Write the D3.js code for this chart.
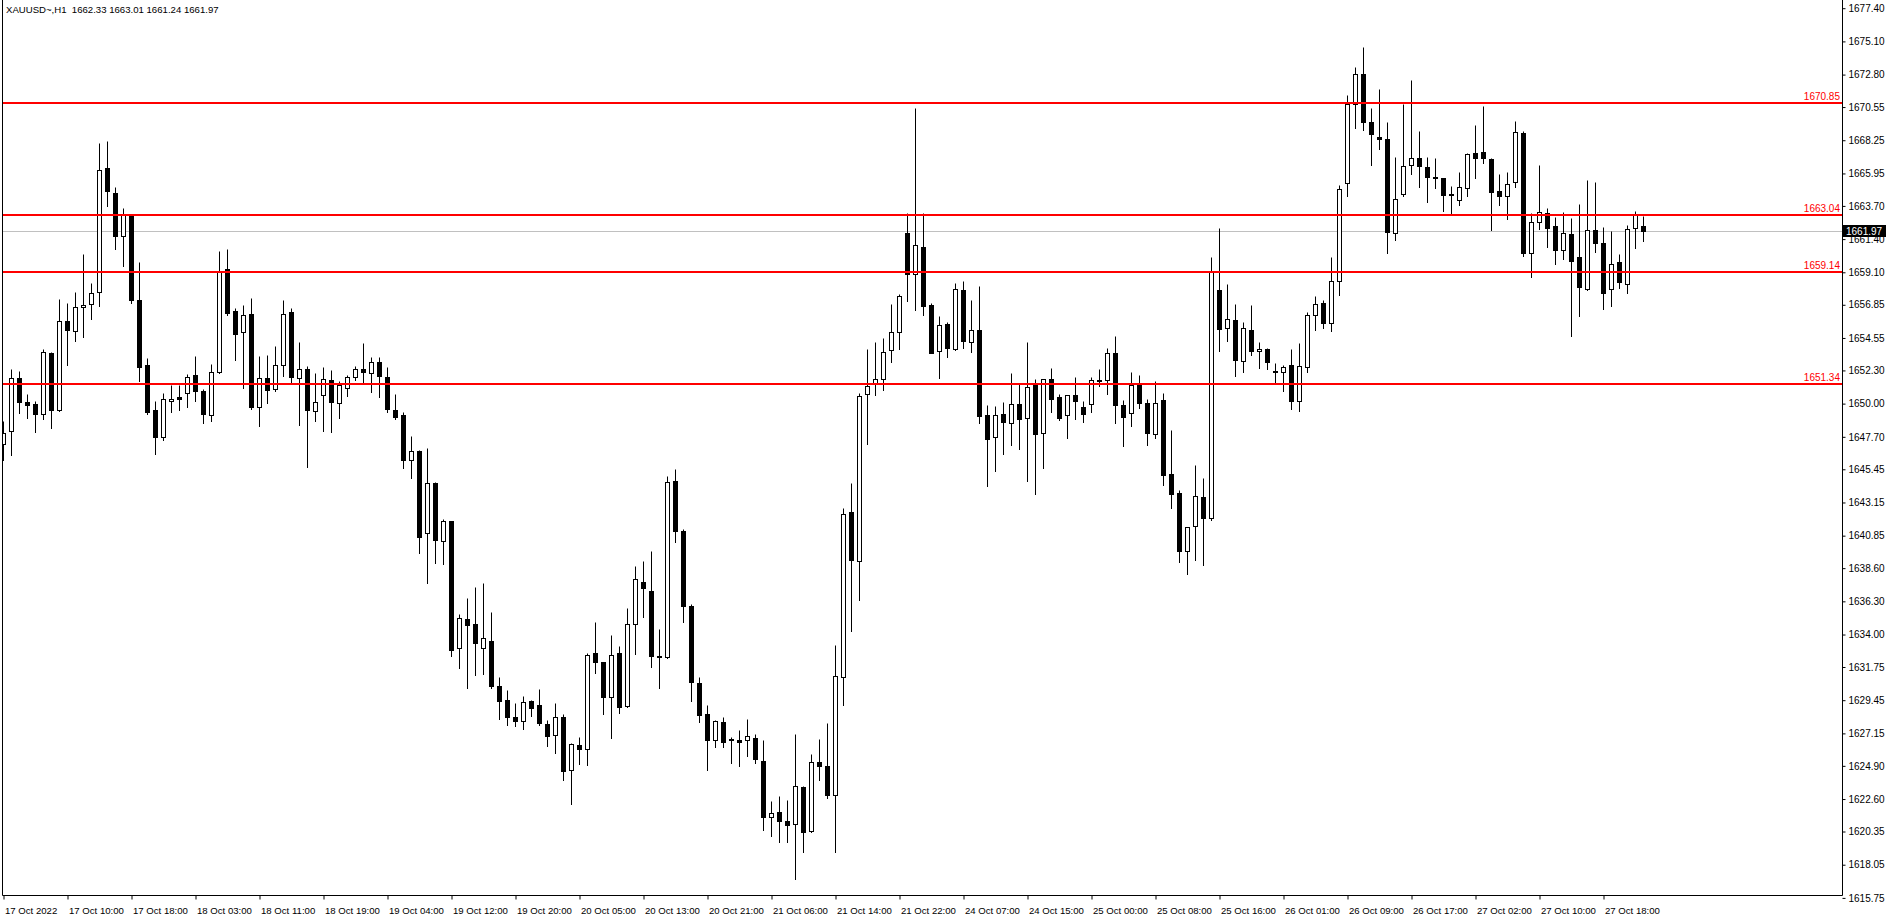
<!DOCTYPE html>
<html>
<head>
<meta charset="utf-8">
<script src="https://cdn.jsdelivr.net/npm/d3@7"></script>
<style>
  html, body { margin: 0; padding: 0; background: #ffffff; }
  svg { display: block; }
  text { font-family: "Liberation Sans", Arial, sans-serif; font-size: 10px; white-space: pre; }
</style>
</head>
<body>
<script>
// ---------- DATA ----------
const opens = [
1647.22,1648.07,1651.79,1650.08,1649.99,1649.30,1653.53,1649.58,1655.70,1655.05,
1656.69,1656.92,1657.75,1666.34,1664.61,1661.61,1663.04,1657.15,1652.65,1649.53,
1647.68,1650.18,1650.43,1650.75,1651.95,1650.89,1649.23,1652.19,1659.30,1656.39,
1654.97,1656.24,1649.76,1651.81,1651.03,1652.67,1656.33,1651.79,1652.43,1649.49,
1650.59,1651.65,1650.04,1651.08,1651.84,1652.43,1652.14,1652.90,1651.86,1649.58,
1649.23,1646.10,1646.74,1641.01,1644.53,1640.45,1641.84,1633.06,1635.06,1634.72,
1633.06,1633.54,1630.42,1629.45,1628.28,1628.00,1629.38,1629.11,1627.79,1627.07,
1628.28,1624.60,1626.34,1626.06,1632.71,1632.09,1629.64,1632.71,1629.08,1634.72,
1637.65,1637.03,1632.52,1632.43,1644.65,1641.16,1635.97,1630.63,1628.48,1626.66,
1627.93,1626.72,1626.66,1626.71,1626.82,1625.27,1621.38,1621.69,1621.06,1620.89,
1623.45,1620.40,1625.20,1624.92,1622.89,1631.03,1642.46,1639.10,1650.67,1651.38,
1651.69,1653.73,1654.99,1661.83,1658.96,1660.85,1656.85,1653.62,1655.55,1653.76,
1657.88,1654.28,1655.10,1649.21,1647.72,1649.25,1648.68,1649.94,1649.02,1651.27,
1647.99,1651.68,1650.45,1649.18,1650.63,1649.80,1649.94,1651.60,1651.66,1653.52,
1649.87,1649.37,1651.32,1650.01,1647.88,1650.22,1645.12,1643.81,1639.82,1641.54,
1643.50,1642.08,1657.88,1655.25,1655.81,1652.97,1655.11,1653.67,1653.79,1652.29,
1652.22,1652.68,1650.20,1652.56,1656.15,1657.00,1655.59,1658.51,1665.29,1670.78,
1672.84,1669.51,1668.47,1668.35,1661.84,1664.53,1666.55,1667.04,1666.40,1665.70,
1665.61,1664.48,1664.08,1664.91,1667.34,1667.41,1666.92,1664.71,1664.36,1665.33,
1668.75,1660.41,1662.56,1663.18,1662.30,1660.62,1661.75,1660.13,1657.96,1662.00,
1661.10,1657.92,1659.79,1658.26,1662.14,1662.33];
const highs = [
1648.77,1652.42,1652.28,1650.68,1650.15,1653.80,1653.60,1657.22,1656.94,1657.71,
1660.34,1658.33,1668.03,1668.17,1664.98,1663.57,1663.16,1659.78,1653.18,1650.15,
1650.71,1651.26,1651.26,1652.02,1653.27,1651.03,1652.72,1660.55,1660.68,1656.62,
1656.86,1657.34,1653.33,1653.40,1653.96,1657.20,1656.61,1654.30,1652.64,1652.09,
1652.57,1652.30,1651.54,1651.95,1652.60,1654.23,1653.26,1653.26,1652.57,1650.64,
1649.39,1647.73,1646.80,1646.90,1644.60,1641.99,1641.90,1635.43,1636.54,1637.30,
1637.57,1635.55,1631.05,1630.15,1629.27,1629.73,1629.45,1630.22,1628.09,1629.27,
1628.51,1626.47,1626.89,1632.71,1634.86,1632.10,1633.98,1633.22,1635.85,1638.76,
1639.11,1639.80,1634.40,1644.97,1645.48,1641.28,1636.13,1631.05,1629.11,1628.09,
1628.28,1626.92,1627.41,1628.15,1627.10,1626.68,1622.43,1622.78,1622.54,1627.10,
1623.50,1625.69,1626.75,1627.88,1633.24,1642.78,1644.53,1650.74,1653.80,1654.29,
1654.57,1656.92,1657.59,1663.20,1670.46,1663.20,1657.00,1656.08,1655.69,1658.39,
1658.50,1657.19,1658.15,1649.89,1649.85,1650.08,1652.14,1651.34,1654.30,1651.68,
1651.73,1652.49,1650.67,1650.63,1651.87,1650.15,1651.87,1652.42,1653.86,1654.71,
1650.28,1652.17,1652.01,1650.35,1651.59,1650.77,1648.17,1643.98,1641.48,1645.74,
1644.88,1660.16,1662.18,1658.26,1656.93,1655.67,1656.86,1654.28,1653.85,1652.82,
1652.68,1653.79,1654.21,1656.32,1657.46,1657.20,1660.16,1665.16,1671.38,1673.35,
1674.74,1670.51,1671.82,1669.54,1667.06,1670.73,1672.45,1668.86,1667.06,1666.99,
1665.65,1665.05,1666.05,1667.34,1669.30,1670.62,1667.00,1665.91,1666.05,1669.58,
1668.89,1663.18,1666.53,1663.55,1662.93,1663.25,1662.86,1663.83,1665.49,1665.35,
1662.24,1661.96,1660.39,1662.37,1663.32,1663.01];
const lows = [
1646.07,1646.46,1649.37,1649.00,1648.03,1648.95,1648.31,1649.50,1652.67,1654.33,
1654.61,1655.86,1656.76,1663.69,1660.71,1659.53,1656.97,1651.56,1649.28,1646.48,
1647.47,1649.41,1649.53,1649.76,1650.18,1648.65,1648.79,1652.14,1656.16,1653.02,
1651.10,1649.62,1648.45,1650.02,1650.87,1651.90,1651.40,1648.52,1645.61,1648.77,
1648.08,1648.01,1648.98,1650.52,1651.67,1651.40,1650.80,1650.45,1649.42,1648.93,
1645.52,1644.85,1639.65,1637.60,1638.98,1638.91,1632.48,1631.65,1630.27,1631.17,
1631.24,1630.26,1628.18,1627.70,1627.63,1627.42,1628.32,1627.70,1626.29,1625.76,
1623.89,1622.29,1625.00,1624.93,1631.30,1628.46,1626.84,1628.55,1629.00,1632.66,
1635.18,1631.72,1630.26,1632.34,1640.38,1634.90,1629.36,1627.97,1624.58,1626.22,
1626.22,1625.10,1624.89,1625.59,1625.10,1620.47,1620.04,1619.59,1619.59,1617.06,
1618.96,1620.29,1623.90,1622.68,1618.96,1629.13,1634.25,1636.39,1647.20,1650.57,
1650.92,1652.85,1653.76,1657.10,1656.50,1656.15,1653.48,1651.76,1653.20,1653.69,
1653.83,1653.57,1648.66,1644.27,1645.31,1646.48,1647.10,1646.89,1644.64,1643.72,
1645.56,1649.41,1648.89,1647.65,1648.95,1648.75,1649.44,1651.23,1650.67,1648.68,
1647.03,1648.47,1649.71,1647.16,1647.65,1644.34,1642.78,1639.04,1638.17,1639.18,
1638.85,1641.94,1653.65,1654.33,1651.90,1652.22,1653.36,1652.46,1652.39,1651.37,
1650.85,1649.62,1649.47,1652.19,1655.08,1655.23,1655.06,1657.51,1664.41,1669.08,
1668.96,1666.53,1667.62,1660.43,1661.33,1664.36,1665.89,1665.00,1663.95,1664.92,
1663.37,1663.14,1663.78,1664.41,1665.61,1666.69,1662.05,1663.78,1662.81,1665.03,
1660.25,1658.79,1662.10,1660.87,1659.67,1660.04,1654.71,1656.09,1657.90,1660.53,
1656.58,1656.79,1658.03,1657.69,1660.80,1661.24];
const closes = [
1647.98,1651.79,1650.11,1649.92,1649.28,1653.59,1649.55,1655.74,1655.10,1656.71,
1656.85,1657.68,1666.20,1664.73,1661.61,1663.04,1657.17,1652.53,1649.41,1647.68,
1650.34,1650.34,1650.29,1651.86,1650.87,1649.28,1652.21,1659.11,1656.27,1654.82,
1656.14,1649.76,1651.79,1650.94,1652.69,1656.24,1651.84,1652.43,1649.55,1650.13,
1651.74,1650.11,1651.26,1651.86,1652.41,1652.18,1652.90,1651.90,1649.62,1649.07,
1646.10,1646.74,1640.73,1644.53,1640.57,1641.90,1632.90,1635.13,1634.69,1633.40,
1633.75,1630.40,1629.36,1628.28,1628.04,1629.31,1628.88,1627.86,1626.94,1628.28,
1624.51,1626.40,1626.04,1632.57,1632.13,1629.64,1632.57,1629.01,1634.72,1637.84,
1637.19,1632.48,1632.43,1644.56,1641.14,1636.01,1630.68,1628.39,1626.66,1628.00,
1626.52,1626.76,1626.58,1626.96,1625.38,1621.38,1621.66,1621.10,1620.82,1623.52,
1620.33,1625.20,1624.89,1622.89,1631.10,1642.32,1639.17,1650.50,1651.24,1651.73,
1653.59,1654.99,1657.45,1658.96,1661.00,1656.74,1653.52,1655.48,1653.83,1657.97,
1654.32,1655.10,1649.16,1647.58,1649.21,1648.75,1649.94,1648.95,1651.18,1647.92,
1651.68,1650.33,1649.02,1650.60,1650.19,1649.25,1651.66,1651.64,1653.52,1649.92,
1649.09,1651.32,1650.06,1647.99,1650.01,1645.03,1643.72,1639.80,1641.48,1643.61,
1642.10,1659.16,1655.16,1655.88,1653.04,1655.25,1653.67,1653.79,1652.90,1652.19,
1652.56,1650.20,1652.63,1656.15,1656.90,1655.59,1658.51,1664.87,1670.78,1672.84,
1669.49,1668.66,1668.32,1661.88,1664.19,1666.48,1667.04,1666.45,1665.70,1665.63,
1664.48,1664.52,1664.98,1667.30,1667.04,1666.99,1664.68,1664.41,1665.19,1668.79,
1660.46,1662.56,1663.25,1662.19,1660.67,1661.82,1659.90,1658.10,1662.00,1661.10,
1657.69,1659.65,1658.45,1662.07,1663.04,1661.97];

const timeLabels = ["17 Oct 2022","17 Oct 10:00","17 Oct 18:00","18 Oct 03:00","18 Oct 11:00",
  "18 Oct 19:00","19 Oct 04:00","19 Oct 12:00","19 Oct 20:00","20 Oct 05:00","20 Oct 13:00",
  "20 Oct 21:00","21 Oct 06:00","21 Oct 14:00","21 Oct 22:00","24 Oct 07:00","24 Oct 15:00",
  "25 Oct 00:00","25 Oct 08:00","25 Oct 16:00","26 Oct 01:00","26 Oct 09:00","26 Oct 17:00",
  "27 Oct 02:00","27 Oct 10:00","27 Oct 18:00"];
const labelEvery = 8;

const priceTicks = [1677.40,1675.10,1672.80,1670.55,1668.25,1665.95,1663.70,1661.40,1659.10,
  1656.85,1654.55,1652.30,1650.00,1647.70,1645.45,1643.15,1640.85,1638.60,1636.30,1634.00,
  1631.75,1629.45,1627.15,1624.90,1622.60,1620.35,1618.05,1615.75];

const levels = [1670.85, 1663.04, 1659.14, 1651.34];
const bidPrice = 1661.97;
const titleText = "XAUUSD~,H1  1662.33 1663.01 1661.24 1661.97";

// ---------- LAYOUT ----------
const W = 1888, H = 923;
const frameL = 2.5, frameR = 1842.5, frameB = 895.5;

const svg = d3.select("body").append("svg")
  .attr("width", W).attr("height", H);
svg.append("rect").attr("width", W).attr("height", H).attr("fill", "#ffffff");

const n = opens.length;
const x = d3.scaleLinear().domain([0, n - 1]).range([3.5, 3.5 + 8 * (n - 1)]);
const y = d3.scaleLinear().domain([1615.75, 1677.40]).range([897.9, 8.2]);
const py = v => Math.round(y(v)) + 0.5;

svg.append("defs").append("clipPath").attr("id", "plot")
  .append("rect").attr("x", 3).attr("y", 0).attr("width", frameR - 3).attr("height", frameB);

const plot = svg.append("g").attr("clip-path", "url(#plot)");

// bid line (behind candles)
plot.append("line")
  .attr("x1", frameL).attr("x2", frameR)
  .attr("y1", py(bidPrice)).attr("y2", py(bidPrice))
  .attr("stroke", "#c0c0c0").attr("stroke-width", 1);

const data = d3.range(n).map(i => ({ i, o: opens[i], h: highs[i], l: lows[i], c: closes[i] }));

const cg = plot.append("g").selectAll("g").data(data).join("g");
cg.append("line")
  .attr("x1", d => x(d.i)).attr("x2", d => x(d.i))
  .attr("y1", d => py(d.h)).attr("y2", d => py(d.l) + 0.5)
  .attr("stroke", "#000").attr("stroke-width", 1);
cg.append("rect")
  .attr("x", d => x(d.i) - 2)
  .attr("width", 4)
  .attr("y", d => py(Math.max(d.o, d.c)))
  .attr("height", d => Math.max(0, py(Math.min(d.o, d.c)) - py(Math.max(d.o, d.c))))
  .attr("fill", d => d.c >= d.o ? "#ffffff" : "#000000")
  .attr("stroke", "#000").attr("stroke-width", 1);

// red levels (foreground)
const lv = plot.append("g");
lv.selectAll("line").data(levels).join("line")
  .attr("x1", frameL).attr("x2", frameR)
  .attr("y1", d => Math.round(y(d))).attr("y2", d => Math.round(y(d)))
  .attr("stroke", "#ff0000").attr("stroke-width", 2);
svg.append("g").selectAll("text").data(levels).join("text")
  .attr("x", 1840).attr("y", d => Math.round(y(d)) - 3)
  .attr("text-anchor", "end").attr("fill", "#ff0000")
  .text(d => d.toFixed(2));

// frame
svg.append("path")
  .attr("d", `M${frameL},0V${frameB}H${frameR}V0`)
  .attr("fill", "none").attr("stroke", "#000").attr("stroke-width", 1);

// right price axis
const ya = svg.append("g").attr("transform", `translate(${frameR},0)`)
  .call(d3.axisRight(y).tickValues(priceTicks).tickSize(3).tickPadding(3)
    .tickFormat(d3.format(".2f")));
ya.select(".domain").remove();
ya.selectAll(".tick line").attr("stroke", "#000");
ya.selectAll(".tick text").attr("fill", "#000")
  .style("font-family", '"Liberation Sans", Arial, sans-serif').style("font-size", "10px");

// bid price box
const by = Math.round(y(bidPrice));
svg.append("rect").attr("x", 1843).attr("y", by - 6).attr("width", 43).attr("height", 12).attr("fill", "#000");
svg.append("text").attr("x", 1846).attr("y", by + 4).attr("fill", "#fff").text(bidPrice.toFixed(2));

// bottom time axis
const tickIdx = timeLabels.map((_, k) => k * labelEvery);
const xa = svg.append("g").attr("transform", `translate(0,${frameB})`)
  .call(d3.axisBottom(x).tickValues(tickIdx).tickSize(4)
    .tickFormat((d, k) => timeLabels[k]));
xa.select(".domain").remove();
xa.selectAll(".tick line").attr("stroke", "#000");
xa.selectAll(".tick text").attr("fill", "#000").attr("text-anchor", "start")
  .attr("x", 1).attr("y", 12)
  .style("font-family", '"Liberation Sans", Arial, sans-serif').style("font-size", "9.6px");

// title
svg.append("text").attr("x", 6).attr("y", 13).attr("fill", "#000")
  .attr("xml:space", "preserve").style("font-size", "9.6px").text(titleText);
</script>
</body>
</html>
